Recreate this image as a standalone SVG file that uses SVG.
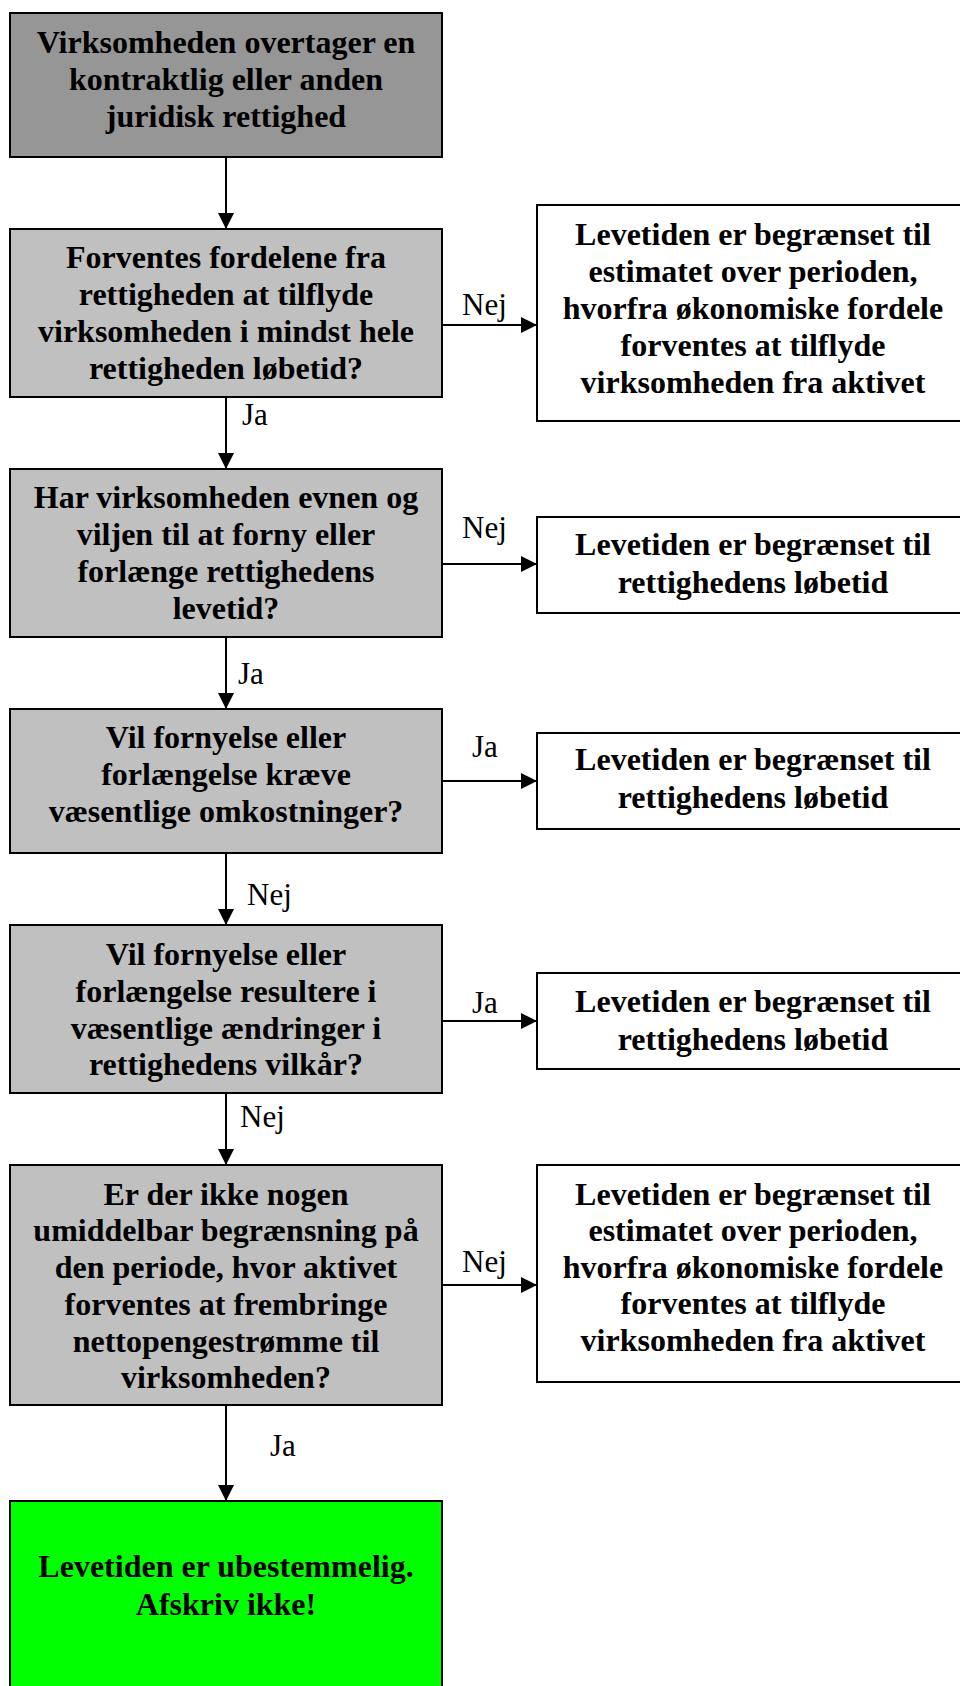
<svg xmlns="http://www.w3.org/2000/svg" width="960" height="1686" viewBox="0 0 960 1686">
<style>
.box{stroke:#000;stroke-width:2}
.start{fill:#969696}
.q{fill:#c0c0c0}
.res{fill:#fff}
.ok{fill:#00ff00}
.t{font-family:"Liberation Serif","Times New Roman",serif;font-weight:bold;font-size:32px;text-anchor:middle;fill:#000}
.lbl{font-family:"Liberation Serif","Times New Roman",serif;font-size:31px;fill:#000}
.c{stroke:#000;stroke-width:2;fill:none;marker-end:url(#ah)}
</style>
<defs>
<marker id="ah" viewBox="0 0 16 16" refX="16" refY="8" markerWidth="16" markerHeight="16" markerUnits="userSpaceOnUse" orient="auto">
<path d="M0,0 L16,8 L0,16 z" fill="#000"/>
</marker>
</defs>
<rect width="960" height="1686" fill="#fff"/>
<g id="connectors">
<line class="c" x1="226" y1="157" x2="226" y2="229"/>
<line class="c" x1="226" y1="397" x2="226" y2="469"/>
<text class="lbl" x="242" y="425">Ja</text>
<line class="c" x1="226" y1="637" x2="226" y2="709"/>
<text class="lbl" x="238" y="684">Ja</text>
<line class="c" x1="226" y1="853" x2="226" y2="925"/>
<text class="lbl" x="247" y="905">Nej</text>
<line class="c" x1="226" y1="1093" x2="226" y2="1165"/>
<text class="lbl" x="240" y="1127">Nej</text>
<line class="c" x1="226" y1="1405" x2="226" y2="1501"/>
<text class="lbl" x="270" y="1456">Ja</text>
<line class="c" x1="442" y1="325" x2="537" y2="325"/>
<text class="lbl" x="462" y="315">Nej</text>
<line class="c" x1="442" y1="564" x2="537" y2="564"/>
<text class="lbl" x="462" y="538">Nej</text>
<line class="c" x1="442" y1="781" x2="537" y2="781"/>
<text class="lbl" x="472" y="757">Ja</text>
<line class="c" x1="442" y1="1021" x2="537" y2="1021"/>
<text class="lbl" x="472" y="1013">Ja</text>
<line class="c" x1="442" y1="1285" x2="537" y2="1285"/>
<text class="lbl" x="462" y="1272">Nej</text>
</g>
<g id="b1">
<rect class="box start" x="10" y="13" width="432" height="144"/>
<text class="t" x="226" y="53">Virksomheden overtager en</text>
<text class="t" x="226" y="90">kontraktlig eller anden</text>
<text class="t" x="226" y="127">juridisk rettighed</text>
</g>
<g id="b2">
<rect class="box q" x="10" y="229" width="432" height="168"/>
<text class="t" x="226" y="268">Forventes fordelene fra</text>
<text class="t" x="226" y="305">rettigheden at tilflyde</text>
<text class="t" x="226" y="342">virksomheden i mindst hele</text>
<text class="t" x="226" y="379">rettigheden løbetid?</text>
</g>
<g id="b3">
<rect class="box q" x="10" y="469" width="432" height="168"/>
<text class="t" x="226" y="508">Har virksomheden evnen og</text>
<text class="t" x="226" y="545">viljen til at forny eller</text>
<text class="t" x="226" y="582">forlænge rettighedens</text>
<text class="t" x="226" y="619">levetid?</text>
</g>
<g id="b4">
<rect class="box q" x="10" y="709" width="432" height="144"/>
<text class="t" x="226" y="748">Vil fornyelse eller</text>
<text class="t" x="226" y="785">forlængelse kræve</text>
<text class="t" x="226" y="822">væsentlige omkostninger?</text>
</g>
<g id="b5">
<rect class="box q" x="10" y="925" width="432" height="168"/>
<text class="t" x="226" y="965">Vil fornyelse eller</text>
<text class="t" x="226" y="1002">forlængelse resultere i</text>
<text class="t" x="226" y="1039">væsentlige ændringer i</text>
<text class="t" x="226" y="1075">rettighedens vilkår?</text>
</g>
<g id="b6">
<rect class="box q" x="10" y="1165" width="432" height="240"/>
<text class="t" x="226" y="1205">Er der ikke nogen</text>
<text class="t" x="226" y="1241">umiddelbar begrænsning på</text>
<text class="t" x="226" y="1278">den periode, hvor aktivet</text>
<text class="t" x="226" y="1315">forventes at frembringe</text>
<text class="t" x="226" y="1352">nettopengestrømme til</text>
<text class="t" x="226" y="1388">virksomheden?</text>
</g>
<g id="green">
<rect class="box ok" x="10" y="1501" width="432" height="200"/>
<text class="t" x="226" y="1577">Levetiden er ubestemmelig.</text>
<text class="t" x="226" y="1615">Afskriv ikke!</text>
</g>
<g id="r1">
<rect class="box res" x="537" y="205" width="430" height="216"/>
<text class="t" x="753" y="245">Levetiden er begrænset til</text>
<text class="t" x="753" y="282">estimatet over perioden,</text>
<text class="t" x="753" y="319">hvorfra økonomiske fordele</text>
<text class="t" x="753" y="356">forventes at tilflyde</text>
<text class="t" x="753" y="393">virksomheden fra aktivet</text>
</g>
<g id="r2">
<rect class="box res" x="537" y="517" width="430" height="96"/>
<text class="t" x="753" y="555">Levetiden er begrænset til</text>
<text class="t" x="753" y="593">rettighedens løbetid</text>
</g>
<g id="r3">
<rect class="box res" x="537" y="733" width="430" height="96"/>
<text class="t" x="753" y="770">Levetiden er begrænset til</text>
<text class="t" x="753" y="808">rettighedens løbetid</text>
</g>
<g id="r4">
<rect class="box res" x="537" y="973" width="430" height="96"/>
<text class="t" x="753" y="1012">Levetiden er begrænset til</text>
<text class="t" x="753" y="1050">rettighedens løbetid</text>
</g>
<g id="r5">
<rect class="box res" x="537" y="1165" width="430" height="217"/>
<text class="t" x="753" y="1205">Levetiden er begrænset til</text>
<text class="t" x="753" y="1241">estimatet over perioden,</text>
<text class="t" x="753" y="1278">hvorfra økonomiske fordele</text>
<text class="t" x="753" y="1314">forventes at tilflyde</text>
<text class="t" x="753" y="1351">virksomheden fra aktivet</text>
</g>
</svg>
